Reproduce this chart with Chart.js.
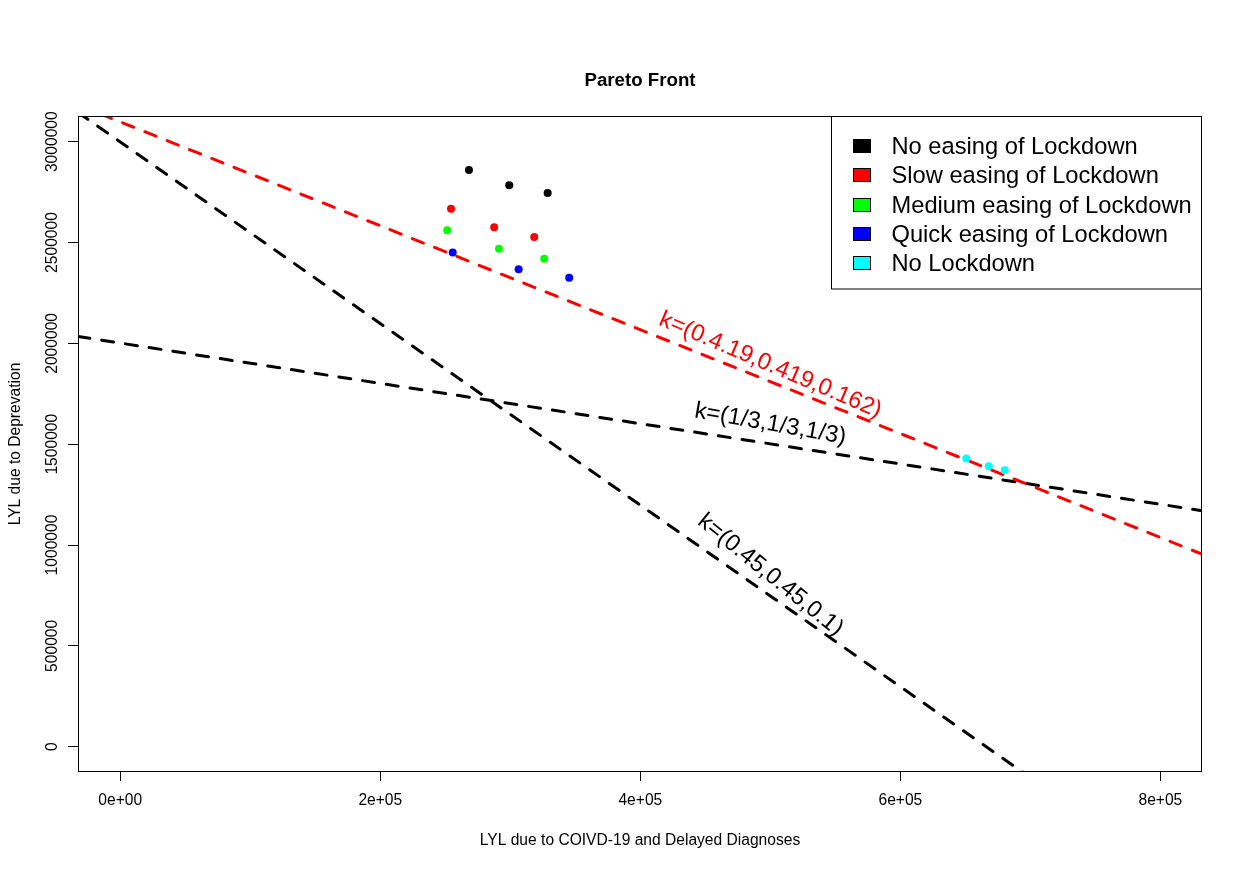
<!DOCTYPE html>
<html>
<head>
<meta charset="utf-8">
<title>Pareto Front</title>
<script src="https://cdn.jsdelivr.net/npm/chart.js@4.4.1/dist/chart.umd.min.js"></script>
<style>
  html, body { margin: 0; padding: 0; background: #fff; }
  #wrap { width: 1243px; height: 870px; }
</style>
</head>
<body>
<div id="wrap"><canvas id="pareto" width="1243" height="870"></canvas></div>
<script>
const FONT = '"Liberation Sans", Arial, Helvetica, sans-serif';

const chartTitle = "Pareto Front";
const xAxisTitle = "LYL due to COIVD-19 and Delayed Diagnoses";
const yAxisTitle = "LYL due to Deprevation";

// scenarios, in legend order
const scenarios = ["No easing of Lockdown", "Slow easing of Lockdown", "Medium easing of Lockdown", "Quick easing of Lockdown", "No Lockdown"];
const scenarioColors = ["#000000", "#ff0000", "#00ff00", "#0000ff", "#00ffff"];

// x = LYL covid + delayed diagnoses, y = LYL deprivation
const noEasingX = [268200, 299200, 328700];
const noEasingY = [2860000, 2784000, 2746000];
const slowEasingX = [254400, 287600, 318400];
const slowEasingY = [2668000, 2576000, 2528000];
const mediumEasingX = [251500, 291300, 326100];
const mediumEasingY = [2561000, 2469000, 2419000];
const quickEasingX = [255700, 306400, 345300];
const quickEasingY = [2450000, 2368000, 2325000];
const noLockdownX = [650700, 668000, 680300];
const noLockdownY = [1429000, 1391000, 1371000];

// weighting lines, given by their two end points
const weightLabels = ["k=(0.4.19,0.419,0.162)", "k=(1/3,1/3,1/3)", "k=(0.45,0.45,0.1)"];
const weightColors = ["#ff0000", "#000000", "#000000"];
const weightLineX = [[-32500, 832000], [-32500, 832000], [-32500, 700000]];
const weightLineY = [[3182000, 955000], [2034000, 1170000], [3145000, -153000]];
const weightLabelX = [500000, 500000, 500000];
const weightLabelY = [1892000, 1600000, 851000];

// axes
const xTicks = [0, 200000, 400000, 600000, 800000];
const xTickLabels = ["0e+00", "2e+05", "4e+05", "6e+05", "8e+05"];
const yTicks = [0, 500000, 1000000, 1500000, 2000000, 2500000, 3000000];
const yTickLabels = ["0", "500000", "1000000", "1500000", "2000000", "2500000", "3000000"];

const pointSets = [
    [noEasingX, noEasingY],
    [slowEasingX, slowEasingY],
    [mediumEasingX, mediumEasingY],
    [quickEasingX, quickEasingY],
    [noLockdownX, noLockdownY]
];

const datasets = scenarios.map((name, i) => ({
    label: name,
    data: pointSets[i][0].map((v, j) => ({ x: v, y: pointSets[i][1][j] })),
    backgroundColor: scenarioColors[i],
    borderWidth: 0,
    pointRadius: 4,
    pointHoverRadius: 4,
    order: 1
}));

weightLabels.forEach((name, i) => {
    datasets.push({
        label: name,
        data: weightLineX[i].map((v, j) => ({ x: v, y: weightLineY[i][j] })),
        showLine: true,
        borderColor: weightColors[i],
        borderWidth: 3,
        borderDash: [12, 12],
        borderCapStyle: "round",
        pointRadius: 0,
        pointHoverRadius: 0,
        fill: false,
        clip: 0,
        order: 2
    });
});

// base plot furniture: box, titles, y labels, line captions, legend
const decorations = {
    id: "decorations",
    afterDraw(chart) {
        const { ctx, chartArea: a, scales: { x, y } } = chart;
        ctx.save();

        ctx.strokeStyle = "#000";
        ctx.lineWidth = 1;
        ctx.strokeRect(a.left + 0.5, a.top - 0.5, a.right - a.left - 1, a.bottom - a.top + 1);

        ctx.fillStyle = "#000";
        ctx.font = `bold 18.7px ${FONT}`;
        ctx.textAlign = "center";
        ctx.textBaseline = "alphabetic";
        ctx.fillText(chartTitle, (a.left + a.right) / 2, 86);

        ctx.font = `15.6px ${FONT}`;
        ctx.fillText(xAxisTitle, (a.left + a.right) / 2, 845);

        ctx.save();
        ctx.translate(19.5, (a.top + a.bottom) / 2);
        ctx.rotate(-Math.PI / 2);
        ctx.fillText(yAxisTitle, 0, 0);
        ctx.restore();

        y.ticks.forEach((t, i) => {
            ctx.save();
            ctx.translate(a.left - 21, y.getPixelForValue(t.value));
            ctx.rotate(-Math.PI / 2);
            ctx.fillText(yTickLabels[i], 0, 0);
            ctx.restore();
        });

        const angles = [23, 10, 39];
        ctx.font = `23.7px ${FONT}`;
        ctx.textBaseline = "middle";
        weightLabels.forEach((txt, i) => {
            ctx.save();
            ctx.translate(x.getPixelForValue(weightLabelX[i]), y.getPixelForValue(weightLabelY[i]));
            ctx.rotate(angles[i] * Math.PI / 180);
            ctx.fillStyle = weightColors[i];
            ctx.fillText(txt, 0, 0);
            ctx.restore();
        });

        // legend in the top right corner
        const lx = 831.5, ly = a.top - 0.5, lw = a.right - 0.5 - lx, lh = 172.5;
        ctx.fillStyle = "#fff";
        ctx.fillRect(lx, ly, lw, lh);
        ctx.strokeStyle = "#000";
        ctx.strokeRect(lx, ly, lw, lh);
        ctx.textAlign = "left";
        scenarios.forEach((name, i) => {
            const cy = a.top + 29 + i * 29.25;
            ctx.fillStyle = scenarioColors[i];
            ctx.fillRect(853.5, Math.round(cy) - 6.5, 17, 13);
            ctx.strokeStyle = "#000";
            ctx.strokeRect(853.5, Math.round(cy) - 6.5, 17, 13);
            ctx.fillStyle = "#000";
            ctx.fillText(name, 891.5, cy + 1.5);
        });

        ctx.restore();
    }
};

new Chart(document.getElementById("pareto"), {
    type: "scatter",
    data: { datasets: datasets },
    options: {
        responsive: false,
        animation: false,
        events: [],
        layout: { padding: { top: 117, right: 41, left: 0, bottom: 0 } },
        plugins: {
            legend: { display: false },
            tooltip: { enabled: false }
        },
        scales: {
            x: {
                type: "linear",
                min: -32500,
                max: 832000,
                afterBuildTicks: (s) => { s.ticks = xTicks.map((v) => ({ value: v })); },
                afterFit: (s) => { s.height = 99; },
                grid: { drawOnChartArea: false, drawTicks: true, tickLength: 10, color: "#000" },
                border: { display: false },
                ticks: {
                    callback: (v, i) => xTickLabels[i],
                    autoSkip: false,
                    maxRotation: 0,
                    color: "#000",
                    padding: 10.6,
                    font: { family: FONT, size: 15.6 }
                }
            },
            y: {
                type: "linear",
                min: -120500,
                max: 3122500,
                afterBuildTicks: (s) => { s.ticks = yTicks.map((v) => ({ value: v })); },
                afterFit: (s) => { s.width = 78; },
                grid: { drawOnChartArea: false, drawTicks: true, tickLength: 10, color: "#000" },
                border: { display: false },
                ticks: { display: false }
            }
        }
    },
    plugins: [decorations]
});
</script>
</body>
</html>
